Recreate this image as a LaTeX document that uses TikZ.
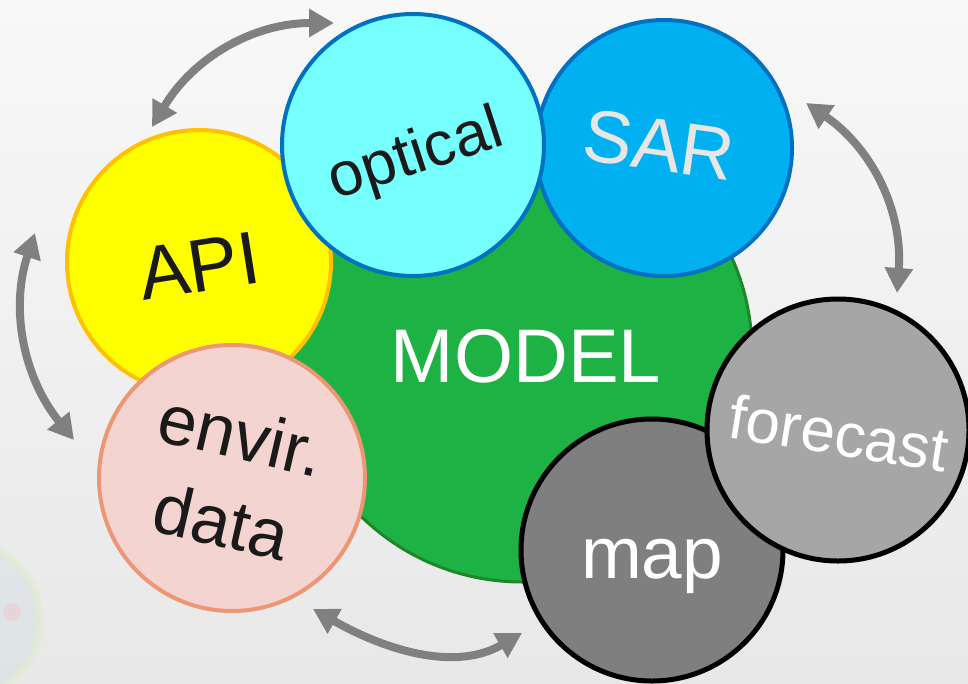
\documentclass[tikz,border=0pt]{standalone}
\usepackage{fontspec}
\setmainfont{Liberation Sans}
\usetikzlibrary{arrows.meta}
\definecolor{bgtop}{RGB}{248,248,248}
\definecolor{bgbot}{RGB}{232,232,232}
\definecolor{modelgreen}{RGB}{30,178,68}
\definecolor{modeldark}{RGB}{28,135,40}
\definecolor{apiyellow}{RGB}{255,255,0}
\definecolor{apiorange}{RGB}{255,192,0}
\definecolor{opticcyan}{RGB}{117,255,255}
\definecolor{sarblue}{RGB}{0,176,240}
\definecolor{rimblue}{RGB}{0,112,192}
\definecolor{envpink}{RGB}{244,212,208}
\definecolor{envrim}{RGB}{236,150,118}
\definecolor{mapgray}{RGB}{127,127,127}
\definecolor{fcgray}{RGB}{166,166,166}
\definecolor{arrowgray}{RGB}{128,128,128}
\definecolor{inkblack}{RGB}{26,26,26}
\definecolor{sartext}{RGB}{230,230,230}
\definecolor{blobfill}{RGB}{205,222,228}
\definecolor{blobring}{RGB}{226,236,204}
\begin{document}
\begin{tikzpicture}[x=1pt,y=-1pt,
  bub/.style={circle, inner sep=0pt, line width=4pt},
  lbl/.style={inner sep=0pt, align=center},
  cyc/.style={draw=arrowgray, line width=8pt,
    {Triangle[length=25pt,width=27pt]}-{Triangle[length=25pt,width=27pt]}}]
\useasboundingbox (0,0) rectangle (968,683);
\fill[top color=bgtop, bottom color=bgbot] (0,0) rectangle (968,683);
% faint background emblem
\begin{scope}
\clip (0,0) rectangle (968,683);
\fill[blobfill, opacity=0.35] (-40,620) circle (80);
\draw[blobring, opacity=0.5, line width=8pt] (-40,620) circle (80);
\fill[red!40, opacity=0.2] (12,612) circle (9);
\end{scope}
% circles
\node[bub, fill=modelgreen, draw=modeldark, line width=3pt, minimum size=460pt] (model) at (522,352) {};
\node[bub, fill=apiyellow, draw=apiorange, minimum size=264pt] (api) at (199,262) {};
\node[bub, fill=sarblue, draw=rimblue, minimum size=256pt] (sar) at (664,148) {};
\node[bub, fill=opticcyan, draw=rimblue, minimum size=262pt] (optical) at (413,145) {};
\node[bub, fill=envpink, draw=envrim, minimum size=266pt] (envir) at (232,478) {};
\node[bub, fill=mapgray, draw=black, line width=5pt, minimum size=262pt] (map) at (652,550) {};
\node[bub, fill=fcgray, draw=black, line width=5pt, minimum size=262pt] (forecast) at (838,430) {};
% labels
\node[lbl, text=white, font=\fontsize{76}{90}\selectfont] (tmodel) at (526,356) {MODEL};
\node[lbl, text=inkblack, rotate=9, font=\fontsize{75}{90}\selectfont] (tapi) at (199,266) {API};
\node[lbl, text=inkblack, rotate=18, font=\fontsize{62}{74}\selectfont] (toptical) at (416,157) {optical};
\node[lbl, text=sartext, rotate=-8, font=\fontsize{74}{88}\selectfont] (tsar) at (659,145) {SAR};
\node[lbl, text=inkblack, rotate=-13, font=\fontsize{70}{89}\selectfont] (tenvir) at (232,478) {envir.\\data};
\node[lbl, text=white, font=\fontsize{73}{88}\selectfont] (tmap) at (652,566) {map};
\node[lbl, text=white, rotate=-9, font=\fontsize{62}{74}\selectfont] (tforecast) at (839,433) {forecast};
% cycle arrows
\coordinate (a1s) at (152,127);
\coordinate (a1e) at (334,23);
\coordinate (a2s) at (806,103);
\coordinate (a2e) at (897,293);
\coordinate (a3s) at (35,233);
\coordinate (a3e) at (74,440);
\coordinate (a4s) at (313,609);
\coordinate (a4e) at (522,633);
\draw[cyc] (a1s) .. controls (193,58) and (253,23) .. (a1e);
\draw[cyc] (a2s) .. controls (873,149) and (903,212) .. (a2e);
\draw[cyc] (a3s) .. controls (10,308) and (23,377) .. (a3e);
\draw[cyc] (a4s) .. controls (385,650) and (455,672) .. (a4e);
\end{tikzpicture}
\end{document}
